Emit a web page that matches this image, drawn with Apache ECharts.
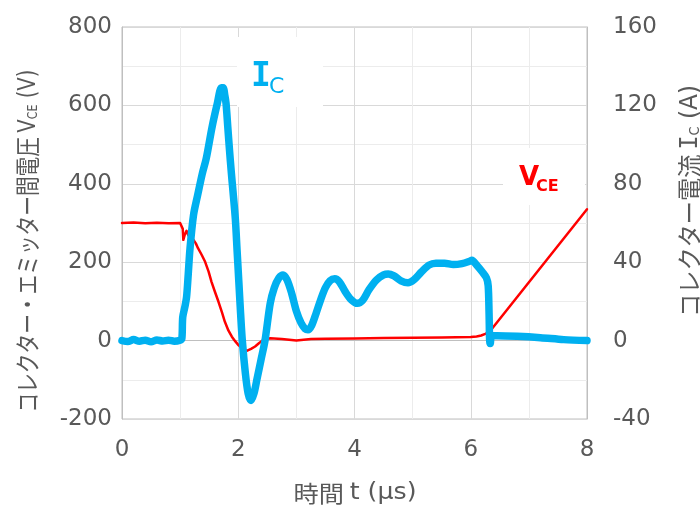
<!DOCTYPE html>
<html>
<head>
<meta charset="utf-8">
<script src="https://cdn.jsdelivr.net/npm/echarts@6/dist/echarts.min.js"></script>
<style>
html, body { margin: 0; padding: 0; background: #fff; }
#chart { width: 700px; height: 506px; }
</style>
</head>
<body>
<div id="chart"></div>
<script>
// Turn-off waveform: collector-emitter voltage (left axis, V) and collector current (right axis, A)
const timeVce = [0, 0.2, 0.4, 0.6, 0.8, 1.0, 1.03, 1.045, 1.055, 1.08, 1.11, 1.14, 1.18, 1.23, 1.27, 1.31, 1.37, 1.43, 1.49, 1.54, 1.60, 1.66, 1.72, 1.77, 1.83, 1.89, 1.95, 2.0, 2.08, 2.145, 2.22, 2.29, 2.36, 2.43, 2.55, 2.75, 3.0, 3.25, 3.5, 4.0, 4.5, 5.0, 5.5, 6.0, 6.1, 6.18, 6.25, 6.32, 8.0];
const vce = [300, 301, 299.5, 300.5, 299.5, 300, 299, 285, 257, 270, 280, 269, 262, 257, 248, 235, 219, 201, 176, 150, 124, 99, 72, 48, 26, 10, -2, -11, -20, -26, -21, -15, -6, 1.5, 6, 4, 0.5, 4, 5, 5.5, 6.5, 7, 8, 9, 10.5, 13, 17, 22, 335];

const timeIc = [0, 0.1, 0.2, 0.3, 0.4, 0.5, 0.6, 0.7, 0.8, 0.9, 1.0, 1.03, 1.045, 1.08, 1.11, 1.14, 1.17, 1.23, 1.30, 1.38, 1.45, 1.55, 1.64, 1.71, 1.74, 1.77, 1.79, 1.82, 1.85, 1.88, 1.91, 1.95, 1.98, 2.01, 2.04, 2.07, 2.12, 2.17, 2.22, 2.27, 2.32, 2.39, 2.46, 2.55, 2.62, 2.70, 2.77, 2.84, 2.92, 3.00, 3.08, 3.15, 3.20, 3.26, 3.34, 3.42, 3.50, 3.58, 3.66, 3.74, 3.84, 3.94, 4.05, 4.14, 4.25, 4.38, 4.50, 4.58, 4.68, 4.80, 4.92, 5.02, 5.15, 5.28, 5.40, 5.55, 5.70, 5.85, 5.98, 6.02, 6.10, 6.20, 6.27, 6.30, 6.315, 6.325, 6.335, 6.36, 6.45, 6.8, 7.2, 7.6, 8.0];
const ic = [0, -0.5, 0.5, -0.3, 0.2, -0.6, 0.3, -0.2, 0.2, -0.3, 0.2, 1, 12, 17, 22, 34, 47, 64, 74, 85, 93, 109, 121, 129, 129, 125, 121, 109, 97, 86, 76, 62, 46, 30, 14, 0, -16, -27, -30.5, -27, -20, -10, 0, 19, 27, 32, 33.5, 31, 24, 15, 9, 6, 5.5, 7.5, 14, 21, 27, 30.5, 31.5, 30, 25, 21, 19, 20.5, 26, 31, 33.5, 34, 33, 30.5, 29.5, 31, 35, 38.5, 39.5, 39.5, 38.8, 39.3, 40.5, 41, 38.6, 35, 32, 28, 14, 0, -1.5, 2.5, 2.5, 2.2, 1.5, 0.5, 0];

// Axis ranges and tick steps
const timeRange = [0, 8], timeStep = 2;
const voltRange = [-200, 800], voltStep = 200;
const currRange = [-40, 160], currStep = 40;

const zip = (xs, ys) => xs.map((x, i) => [x, ys[i]]);

const GRAY = '#595959';
const LATIN = 'DejaVu Sans';
const MONO = 'DejaVu Sans Mono';
const CJK = 'Noto Sans CJK JP';
const tickLabel = { fontSize: 23, color: GRAY, fontFamily: LATIN };

// Horizontal squeeze factor so a title of mixed-font runs spans the wanted length
const measureCtx = document.createElement('canvas').getContext('2d');
function squeeze(runs, length) {
  let w = 0;
  runs.forEach(([txt, size, family]) => {
    measureCtx.font = size + 'px "' + family + '"';
    w += measureCtx.measureText(txt).width;
  });
  return length / w;
}

const T = 25, S = 14;   // title font size, subscript size
const leftRuns = [['コレクター・エミッター間電圧 ', T, CJK], ['V', T, LATIN], ['CE', S, LATIN], [' (V)', T, LATIN]];
const rightRuns = [['コレクター電流 ', T, CJK], ['I', T, MONO], ['C', S, LATIN], [' (A)', T, LATIN]];
const bottomRuns = [['時間 ', 23, CJK], ['t (μs)', 23, LATIN]];

function titleRich(size, sub) {
  const base = { color: GRAY, verticalAlign: 'bottom', lineHeight: size + 6 };
  return {
    j: Object.assign({ fontSize: size, fontFamily: CJK }, base),
    l: Object.assign({ fontSize: size, fontFamily: LATIN }, base),
    m: Object.assign({ fontSize: size, fontFamily: MONO }, base),
    s: Object.assign({ fontSize: sub, fontFamily: LATIN }, base, { lineHeight: sub + 3 })
  };
}

const chart = echarts.init(document.getElementById('chart'), null, { renderer: 'canvas' });

chart.setOption({
  animation: false,
  backgroundColor: '#fff',
  grid: { left: 122, right: 113, top: 27, bottom: 87, show: true, borderColor: '#bfbfbf', borderWidth: 1, containLabel: false },
  xAxis: {
    type: 'value', min: timeRange[0], max: timeRange[1], interval: timeStep,
    axisLine: { show: true, lineStyle: { color: '#bfbfbf' } },
    axisTick: { show: false },
    axisLabel: Object.assign({ margin: 20 }, tickLabel),
    splitLine: { show: true, lineStyle: { color: '#d9d9d9' } },
    minorTick: { show: false, splitNumber: 2 },
    minorSplitLine: { show: true, lineStyle: { color: '#ececec' } }
  },
  yAxis: [
    {
      type: 'value', position: 'left', min: voltRange[0], max: voltRange[1], interval: voltStep,
      axisLine: { show: true, lineStyle: { color: '#bfbfbf' } },
      axisTick: { show: false },
      axisLabel: Object.assign({ margin: 10 }, tickLabel),
      splitLine: { show: true, lineStyle: { color: '#d9d9d9' } },
      minorTick: { show: false, splitNumber: 2 },
      minorSplitLine: { show: true, lineStyle: { color: '#ececec' } }
    },
    {
      type: 'value', position: 'right', min: currRange[0], max: currRange[1], interval: currStep,
      axisLine: { show: true, lineStyle: { color: '#bfbfbf' } },
      axisTick: { show: false },
      axisLabel: Object.assign({ margin: 26 }, tickLabel),
      splitLine: { show: false }
    }
  ],
  series: [
    {
      name: 'VCE', type: 'line', yAxisIndex: 0, showSymbol: false, symbol: 'none',
      smooth: false,
      data: zip(timeVce, vce),
      lineStyle: { color: '#ff0000', width: 2.5, join: 'round', cap: 'round' },
      z: 2
    },
    {
      name: 'IC', type: 'line', yAxisIndex: 1, showSymbol: false, symbol: 'none',
      smooth: 0.3,
      data: zip(timeIc, ic),
      lineStyle: { color: '#00b0f0', width: 7.5, join: 'round', cap: 'round' },
      z: 3
    }
  ],
  graphic: [
    // series tags with white backing
    { type: 'rect', shape: { x: 237, y: 37, width: 86, height: 70 }, style: { fill: '#fff' }, z: 5 },
    { type: 'text', x: 251, y: 77, z: 6, style: { text: 'I', font: 'bold 33px "DejaVu Sans Mono"', fill: '#00b0f0', verticalAlign: 'middle', align: 'left' } },
    { type: 'text', x: 269, y: 87, z: 6, style: { text: 'C', font: '22px "DejaVu Sans"', fill: '#00b0f0', verticalAlign: 'middle', align: 'left' } },
    { type: 'rect', shape: { x: 503, y: 148, width: 82, height: 57 }, style: { fill: '#fff' }, z: 5 },
    { type: 'text', x: 519, y: 178, z: 6, style: { text: 'V', font: 'bold 26px "DejaVu Sans"', fill: '#ff0000', verticalAlign: 'middle', align: 'left' } },
    { type: 'text', x: 536, y: 187, z: 6, style: { text: 'CE', font: 'bold 16px "DejaVu Sans"', fill: '#ff0000', verticalAlign: 'middle', align: 'left' } },
    // axis titles
    {
      type: 'text', x: 25, y: 241, rotation: Math.PI / 2, scaleX: squeeze(leftRuns, 343), z: 6,
      style: {
        text: '{j|コレクター・エミッター間電圧 }{l|V}{s|CE}{l| (V)}',
        align: 'center', verticalAlign: 'middle', fill: GRAY,
        rich: titleRich(T, S)
      }
    },
    {
      type: 'text', x: 687, y: 201, rotation: Math.PI / 2, scaleX: squeeze(rightRuns, 232), z: 6,
      style: {
        text: '{j|コレクター電流 }{m|I}{s|C}{l| (A)}',
        align: 'center', verticalAlign: 'middle', fill: GRAY,
        rich: titleRich(T, S)
      }
    },
    {
      type: 'text', x: 355, y: 493, scaleX: squeeze(bottomRuns, 123), z: 6,
      style: {
        text: '{j|時間 }{l|t (μs)}',
        align: 'center', verticalAlign: 'middle', fill: GRAY,
        rich: {
          j: { fontSize: 23, fontFamily: CJK, color: GRAY },
          l: { fontSize: 23, fontFamily: LATIN, color: GRAY }
        }
      }
    }
  ]
});
</script>
</body>
</html>
